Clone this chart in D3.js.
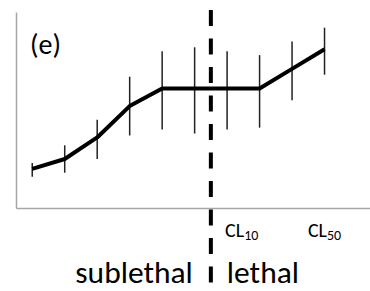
<!DOCTYPE html>
<html>
<head>
<meta charset="utf-8">
<script src="https://d3js.org/d3.v7.min.js"></script>
<style>
  body { margin: 0; background: #fff; }
  text { font-family: Carlito, Lato, "Open Sans", sans-serif; fill: #000; }
</style>
</head>
<body>
<div id="chart"></div>
<script>
// concentration steps (index along x), response means and error bar ends
var steps = [0, 1, 2, 3, 4, 5, 6, 7, 8, 9];
var means = [20, 25, 36, 52, 61, 61, 61, 61, 71, 81];
var lower = [16, 18, 25, 37, 40, 38, 40, 41, 55, 68];
var upper = [23, 32, 45, 67, 80, 82, 80, 78, 85, 92];

var threshold = 5.5;              // sublethal / lethal border
var clLabels = ["10", "50"];      // CL subscripts
var clAt = [6.45, 9];
var zoneLabels = ["sublethal", "lethal"];
var panelLabel = "(e)";

var W = 370, H = 291;
var svg = d3.select("#chart").append("svg")
  .attr("width", W).attr("height", H);

var x = d3.scaleLinear().domain([-0.5, 10.4]).range([16, 370]);
var y = d3.scaleLinear().domain([0, 100]).range([208, 12]);

// axes: plain grey lines, no ticks
var gx = svg.append("g").attr("transform", "translate(0," + y(0) + ")")
  .call(d3.axisBottom(x).ticks(0).tickSizeOuter(0));
var gy = svg.append("g").attr("transform", "translate(" + x(-0.5) + ",0)")
  .call(d3.axisLeft(y).ticks(0).tickSizeOuter(0));
svg.selectAll(".domain").attr("stroke", "#a6a6a6").attr("stroke-width", 1.5);

var pts = steps.map(function(s, i) {
  return {s: s, m: means[i], lo: lower[i], hi: upper[i]};
});

// error bars
svg.append("g").selectAll("line")
  .data(pts).enter().append("line")
    .attr("x1", function(d) { return x(d.s); })
    .attr("x2", function(d) { return x(d.s); })
    .attr("y1", function(d) { return y(d.lo); })
    .attr("y2", function(d) { return y(d.hi); })
    .attr("stroke", "#222").attr("stroke-width", 1.5);

// mean line
var line = d3.line()
  .x(function(d) { return x(d.s); })
  .y(function(d) { return y(d.m); });
svg.append("path").datum(pts)
  .attr("d", line)
  .attr("fill", "none").attr("stroke", "#000")
  .attr("stroke-width", 4).attr("stroke-linejoin", "round");

// threshold dashed line
svg.append("line")
  .attr("x1", x(threshold)).attr("x2", x(threshold))
  .attr("y1", 10).attr("y2", H)
  .attr("stroke", "#000").attr("stroke-width", 4)
  .attr("stroke-dasharray", "16,12.5");

// CL labels
clLabels.forEach(function(sub, i) {
  var t = svg.append("text")
    .attr("x", x(clAt[i])).attr("y", 237)
    .attr("text-anchor", "middle")
    .style("font-size", "20px");
  t.append("tspan").text("CL");
  t.append("tspan").attr("dy", 3).style("font-size", "14px").text(sub);
});

// zone labels
svg.append("text").attr("x", x(threshold) - 18).attr("y", 283)
  .attr("text-anchor", "end").style("font-size", "31.5px").text(zoneLabels[0]);
svg.append("text").attr("x", x(threshold) + 16).attr("y", 283)
  .attr("text-anchor", "start").style("font-size", "31.5px").text(zoneLabels[1]);

svg.append("text").attr("x", 30).attr("y", 54)
  .style("font-size", "28px").text(panelLabel);
</script>
</body>
</html>
